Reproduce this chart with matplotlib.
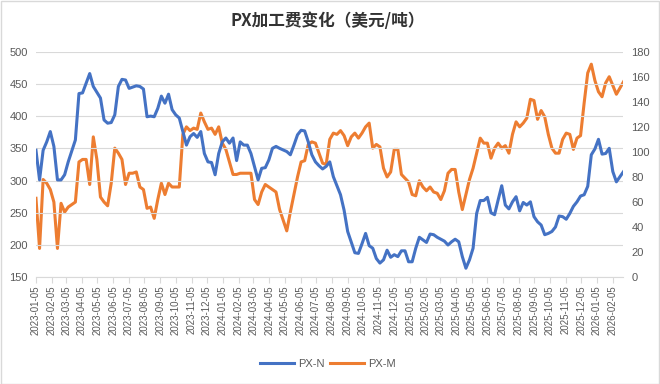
import numpy as np
import pandas as pd
import matplotlib
matplotlib.use("Agg")
import matplotlib.pyplot as plt
import matplotlib.dates as mdates
from matplotlib.patches import Rectangle

plt.rcParams['font.family'] = ['Liberation Sans', 'Noto Sans CJK SC', 'DejaVu Sans']

start = pd.Timestamp('2023-01-05')

# PX-N (left axis), weekly readings: week offset from 2023-01-05, value
pn_weeks = [0, 1, 2, 3, 4, 5, 6, 7, 8, 9, 11, 12, 13, 15, 16, 18, 19, 20, 21, 22,
            23, 24, 25, 26, 28, 29, 30, 31, 32, 33, 34, 35, 36, 37, 38, 39, 40, 41, 42, 43,
            44, 45, 46, 47, 48, 49, 50, 51, 52, 53, 54, 55, 56, 57, 58, 59, 60, 62, 63, 64,
            65, 66, 67, 68, 70, 71, 72, 73, 74, 75, 76, 77, 78, 79, 80, 81, 82, 83, 85, 86,
            87, 89, 90, 91, 92, 93, 94, 95, 96, 97, 98, 99, 100, 101, 102, 103, 104, 105, 106, 107,
            108, 109, 110, 111, 112, 114, 115, 116, 117, 118, 119, 120, 121, 122, 123, 124, 125, 126, 127, 128,
            129, 130, 131, 132, 133, 134, 135, 136, 137, 138, 139, 140, 141, 142, 143, 144, 145, 146, 147, 148,
            149, 150, 151, 152, 153, 154, 155, 156, 157, 158, 159, 160, 161, 162, 163, 164]
pn_vals = [347, 301, 347, 360, 376, 353, 301, 301, 309, 329, 363, 435, 436, 466, 446, 428, 394, 389, 390, 402,
           446, 457, 456, 443, 447, 446, 442, 399, 400, 399, 412, 431, 420, 434, 410, 402, 397, 376, 355, 368,
           373, 367, 376, 342, 329, 328, 309, 342, 360, 366, 358, 366, 331, 360, 355, 355, 342, 301, 319, 320,
           332, 350, 353, 350, 345, 340, 355, 371, 378, 377, 360, 340, 329, 323, 318, 322, 329, 306, 278, 254,
           221, 188, 187, 202, 218, 199, 195, 179, 172, 177, 192, 181, 185, 182, 191, 191, 174, 174, 195, 212,
           208, 204, 217, 216, 212, 206, 200, 205, 209, 205, 182, 164, 177, 195, 249, 269, 269, 274, 250, 247,
           270, 292, 262, 256, 267, 275, 253, 266, 262, 267, 244, 236, 231, 216, 218, 221, 228, 245, 244, 240,
           249, 260, 267, 276, 278, 291, 340, 349, 364, 341, 342, 350, 314, 298, 306, 314]

# PX-M (right axis)
pm_weeks = [0, 1, 2, 3, 4, 5, 6, 7, 8, 9, 11, 12, 13, 14, 15, 16, 17, 18, 19, 20,
            21, 22, 23, 24, 25, 26, 27, 28, 29, 30, 31, 32, 33, 34, 35, 36, 37, 38, 39, 40,
            41, 42, 43, 44, 45, 46, 47, 48, 49, 50, 51, 52, 53, 55, 56, 57, 59, 60, 61, 62,
            63, 64, 65, 66, 67, 68, 70, 71, 72, 73, 74, 75, 76, 77, 78, 79, 80, 81, 82, 83,
            84, 85, 86, 87, 88, 89, 90, 91, 92, 93, 94, 95, 96, 97, 98, 99, 100, 101, 102, 103,
            104, 105, 106, 107, 108, 109, 110, 111, 112, 113, 114, 115, 116, 117, 118, 119, 120, 121, 122, 123,
            124, 125, 126, 127, 128, 129, 130, 131, 132, 133, 134, 135, 136, 137, 138, 139, 140, 141, 142, 143,
            144, 145, 146, 147, 148, 149, 150, 151, 152, 153, 154, 155, 156, 157, 158, 159, 160, 161, 162, 163, 164]
pm_vals = [63, 23, 78, 75, 70, 60, 23, 59, 52, 56, 60, 92, 94, 94, 74, 112, 94, 64, 60, 57,
           75, 103, 99, 94, 74, 83, 83, 84, 72, 70, 55, 56, 47, 62, 75, 66, 75, 72, 72, 72,
           114, 120, 117, 119, 118, 131, 124, 118, 119, 114, 120, 107, 102, 82, 82, 83, 83, 83, 62, 58,
           68, 74, 72, 70, 68, 54, 37, 52, 66, 80, 92, 93, 106, 108, 107, 99, 91, 90, 110, 115,
           114, 117, 113, 105, 112, 115, 111, 115, 120, 123, 103, 106, 104, 87, 80, 84, 102, 102, 82, 79,
           76, 66, 65, 77, 72, 69, 72, 68, 67, 62, 69, 83, 86, 86, 68, 54, 66, 78, 87, 99,
           111, 107, 107, 95, 103, 107, 103, 105, 99, 114, 124, 120, 123, 127, 142, 141, 126, 133, 128, 114,
           103, 99, 99, 110, 115, 114, 102, 111, 113, 139, 163, 170, 157, 148, 144, 155, 160, 153, 146, 151, 156]

pn_dates = start + pd.to_timedelta(np.array(pn_weeks) * 7, unit='D')
pm_dates = start + pd.to_timedelta(np.array(pm_weeks) * 7, unit='D')

blue = '#4472C4'
orange = '#ED7D31'
grid_c = '#D9D9D9'
txt_c = '#595959'

fig = plt.figure(figsize=(6.6, 3.84), dpi=100)
ax = fig.add_axes([0.0545, 0.278, 0.8895, 0.5875])
ax2 = ax.twinx()

l1, = ax.plot(pn_dates, pn_vals, color=blue, lw=2.2, label='PX-N', zorder=3)
l2, = ax2.plot(pm_dates, pm_vals, color=orange, lw=2.2, label='PX-M', zorder=3)
ax.set_zorder(ax2.get_zorder() + 1)
ax.patch.set_visible(False)

ax.set_ylim(150, 500)
ax.set_yticks(range(150, 501, 50))
ax2.set_ylim(0, 180)
ax2.set_yticks(range(0, 181, 20))
ax.set_xlim(start, start + pd.Timedelta(days=1147))

ax.grid(axis='y', color=grid_c, lw=0.8)
ax.set_axisbelow(True)
for a in (ax, ax2):
    for s in a.spines.values():
        s.set_visible(False)
ax.spines['bottom'].set_visible(True)
ax.spines['bottom'].set_color(grid_c)

ax.xaxis.set_major_locator(mdates.MonthLocator(bymonthday=5))
ax.xaxis.set_major_formatter(mdates.DateFormatter('%Y-%m-%d'))
ax.tick_params(axis='x', rotation=90, labelsize=7, colors=txt_c, length=4, color=grid_c, pad=2)
ax.tick_params(axis='y', labelsize=8, colors=txt_c, length=0, pad=6)
ax2.tick_params(axis='y', labelsize=8, colors=txt_c, length=0, pad=6)

fig.text(0.497, 0.945, 'PX加工费变化（美元/吨）', ha='center', va='center',
         fontsize=12, fontweight='bold', color='#333333',
         family=['Noto Sans CJK SC', 'DejaVu Sans'])

fig.legend(handles=[l1, l2], loc='center', bbox_to_anchor=(0.497, 0.052), ncol=2,
           frameon=False, fontsize=8, labelcolor=txt_c, handlelength=3.0,
           columnspacing=0.5, handletextpad=0.4)

fig.patches.append(Rectangle((0.001, 0.001), 0.997, 0.997, transform=fig.transFigure,
                             fill=False, edgecolor='#D9D9D9', lw=1))

fig.savefig('out.png', dpi=100)
